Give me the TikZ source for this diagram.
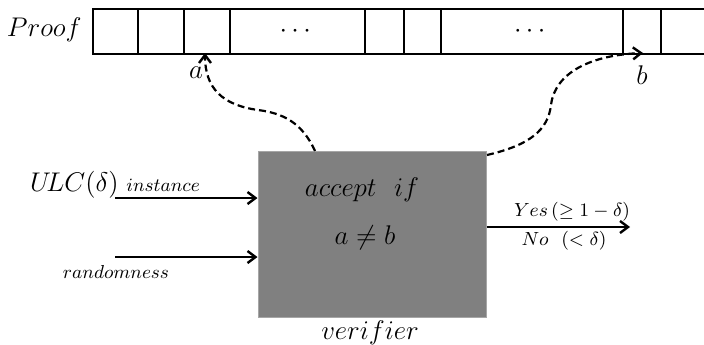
\RequirePackage{fix-cm}
\documentclass[tikz,border=0pt]{standalone}
\usepackage{amsmath}
\usetikzlibrary{arrows.meta}
\tikzset{
  cell/.style={draw=black,line width=1pt,minimum height=22.5pt,inner sep=0pt,anchor=north west},
  big/.style={font=\fontsize{13.5}{15}\selectfont,inner sep=0pt},
  small/.style={font=\fontsize{9.4}{11}\selectfont,inner sep=0pt},
  tiny/.style={font=\fontsize{9.5}{11}\selectfont,inner sep=0pt},
  arr/.style={line width=1.2pt,-{Straight Barb[length=4pt,width=6pt,line width=1.2pt]}},
  darr/.style={line width=1.1pt,dash pattern=on 3.5pt off 2pt,-{Straight Barb[length=4pt,width=6pt,line width=1.2pt]}},
  vbox/.style={fill=black!50,draw=black!35,line width=0.5pt,minimum width=114pt,minimum height=83pt,inner sep=0pt}
}
\begin{document}
\begin{tikzpicture}[x=0.5pt,y=-0.5pt]
\useasboundingbox (0,0) rectangle (704,344);
% tape
\node[cell,minimum width=22.5pt] (c1) at (92,8) {};
\node[cell,minimum width=23pt] (c2) at (137,8) {};
\node[cell,minimum width=23pt] (c3) at (183,8) {};
\node[cell,minimum width=67.5pt] (c4) at (229,8) {};
\node[cell,minimum width=19.5pt] (c5) at (364,8) {};
\node[cell,minimum width=18.5pt] (c6) at (403,8) {};
\node[cell,minimum width=91pt] (c7) at (440,8) {};
\node[cell,minimum width=19pt] (c8) at (622,8) {};
\node[cell,minimum width=30pt] (c9) at (660,8) {};
\node[big] (dots1) at (c4.center) {$\cdots$};
\node[big] (dots2) at (c7.center) {$\cdots$};
\node[big,anchor=east] (proof) at (82,30) {$Proof$};
\coordinate (pa) at (205,53);
\coordinate (pb) at (643,53);
\node[big] (la) at (196,73) {$a$};
\node[big] (lb) at (642,75) {$b$};
% verifier
\node[vbox] (ver) at (372,234) {};
\node[big] (acc) at (362,190) {$accept\ \ if$};
\node[big] (neq) at (365,238) {$a\neq b$};
\node[big] (vlab) at (370,333) {$verifier$};
% inputs
\coordinate (in1) at (115,198);
\coordinate (in2) at (115,257);
\draw[arr] (in1) -- (in1 -| ver.west);
\draw[arr] (in2) -- (in2 -| ver.west);
\node[big,anchor=base east] (ulc) at (119,191) {$U\!LC(\delta)$};
\node[small,anchor=base west] (inst) at (126,191) {$instance$};
\node[small] (rand) at (116,272) {$randomness$};
% output
\coordinate (out) at (630,227);
\draw[arr] (ver.east |- out) -- (out);
\node[tiny] (yes) at (572,212) {$Yes\,(\geq 1-\delta)$};
\node[tiny] (no) at (564,241) {$No\ \ (<\delta)$};
% dashed connectors
\coordinate (sa) at (315,151);
\coordinate (sb) at (487,155);
\draw[darr] (sa) .. controls (302,122) and (282,113) .. (258,110)
  .. controls (222,105) and (205,88) .. (pa);
\draw[darr] (sb) .. controls (530,145) and (548,130) .. (551,105)
  .. controls (555,72) and (592,55) .. (pb);
\end{tikzpicture}
\end{document}
